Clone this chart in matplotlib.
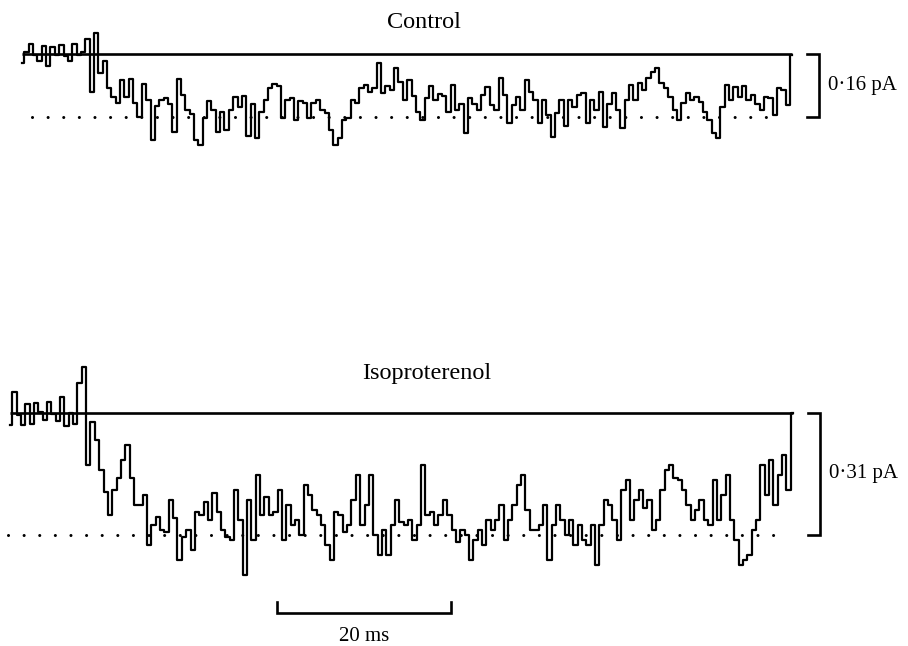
import matplotlib
matplotlib.use('Agg')
import matplotlib.pyplot as plt
import numpy as np

# single-channel current traces, sampled every 0.5 ms (pA, inward = negative)
DT = 0.5
CTRL_T0 = 1.4
ISO_T0 = 0.0

ctrl_pA = [
    -0.023, 0.005, 0.025, -0.003, -0.018, 0.020, -0.030, 0.018, -0.003, 0.023,
    -0.005, -0.018, 0.025, -0.003, 0.005, 0.038, -0.097, 0.053, -0.048, -0.018,
    -0.086, -0.109, -0.124, -0.066, -0.109, -0.064, -0.124, -0.160, -0.076, -0.117,
    -0.218, -0.132, -0.117, -0.112, -0.127, -0.198, -0.064, -0.104, -0.142, -0.152,
    -0.218, -0.231, -0.163, -0.119, -0.142, -0.198, -0.147, -0.193, -0.142, -0.109,
    -0.135, -0.107, -0.208, -0.127, -0.213, -0.147, -0.117, -0.086, -0.076, -0.081,
    -0.163, -0.117, -0.112, -0.168, -0.119, -0.124, -0.163, -0.124, -0.117, -0.142,
    -0.150, -0.193, -0.231, -0.213, -0.168, -0.163, -0.117, -0.124, -0.086, -0.079,
    -0.097, -0.086, -0.023, -0.099, -0.081, -0.091, -0.036, -0.071, -0.117, -0.066,
    -0.107, -0.147, -0.168, -0.112, -0.081, -0.117, -0.102, -0.107, -0.147, -0.079,
    -0.142, -0.127, -0.201, -0.112, -0.127, -0.142, -0.104, -0.084, -0.130, -0.142,
    -0.061, -0.104, -0.175, -0.130, -0.109, -0.142, -0.066, -0.097, -0.117, -0.175,
    -0.117, -0.155, -0.211, -0.150, -0.117, -0.183, -0.117, -0.135, -0.104, -0.099,
    -0.175, -0.117, -0.142, -0.097, -0.185, -0.127, -0.099, -0.142, -0.188, -0.117,
    -0.079, -0.117, -0.074, -0.091, -0.061, -0.046, -0.036, -0.074, -0.086, -0.109,
    -0.142, -0.168, -0.124, -0.099, -0.117, -0.109, -0.122, -0.147, -0.168, -0.201,
    -0.213, -0.135, -0.079, -0.117, -0.084, -0.109, -0.081, -0.117, -0.104, -0.127,
    -0.142, -0.109, -0.112, -0.155, -0.086, -0.091, -0.130, -0.003,
]

iso_pA = [
    -0.030, 0.053, -0.005, -0.030, 0.023, -0.028, 0.025, 0.003, -0.018, 0.028,
    -0.003, -0.020, 0.041, -0.033, 0.000, -0.028, 0.076, 0.117, -0.132, -0.023,
    -0.069, -0.145, -0.201, -0.259, -0.196, -0.165, -0.119, -0.081, -0.165, -0.234,
    -0.234, -0.208, -0.335, -0.284, -0.264, -0.297, -0.302, -0.221, -0.267, -0.373,
    -0.315, -0.297, -0.348, -0.251, -0.259, -0.226, -0.272, -0.203, -0.251, -0.297,
    -0.315, -0.323, -0.196, -0.272, -0.411, -0.221, -0.323, -0.157, -0.259, -0.213,
    -0.259, -0.251, -0.196, -0.323, -0.234, -0.284, -0.272, -0.310, -0.183, -0.208,
    -0.246, -0.259, -0.284, -0.335, -0.373, -0.251, -0.259, -0.302, -0.284, -0.221,
    -0.157, -0.284, -0.234, -0.157, -0.310, -0.361, -0.297, -0.361, -0.284, -0.221,
    -0.277, -0.284, -0.272, -0.323, -0.284, -0.132, -0.259, -0.251, -0.284, -0.259,
    -0.221, -0.259, -0.297, -0.328, -0.297, -0.310, -0.373, -0.323, -0.297, -0.335,
    -0.272, -0.297, -0.272, -0.234, -0.323, -0.272, -0.234, -0.183, -0.157, -0.246,
    -0.297, -0.297, -0.284, -0.234, -0.373, -0.284, -0.234, -0.272, -0.310, -0.272,
    -0.335, -0.284, -0.323, -0.335, -0.284, -0.386, -0.284, -0.221, -0.234, -0.272,
    -0.323, -0.196, -0.170, -0.272, -0.221, -0.196, -0.241, -0.221, -0.297, -0.272,
    -0.196, -0.145, -0.132, -0.165, -0.170, -0.196, -0.234, -0.272, -0.246, -0.221,
    -0.272, -0.284, -0.170, -0.272, -0.208, -0.157, -0.272, -0.323, -0.386, -0.373,
    -0.361, -0.297, -0.272, -0.132, -0.208, -0.119, -0.234, -0.157, -0.107, -0.196,
    0.000,
]

ctrl_open = -0.16   # pA, single channel amplitude
iso_open = -0.31
ISO_OFFSET = -0.911  # vertical offset of the lower trace on the page

ctrl_t = CTRL_T0 + DT*np.arange(len(ctrl_pA))
iso_t = ISO_T0 + DT*np.arange(len(iso_pA))
ctrl_y = np.array(ctrl_pA)
iso_y = np.array(iso_pA) + ISO_OFFSET

fig = plt.figure(figsize=(9.08, 6.46), dpi=100)
ax = fig.add_axes([0, 0, 1, 1])
ax.set_xlim(-1.149, 103.218)
ax.set_ylim(-1.503, 0.137)
ax.axis('off')

serif = 'Liberation Serif'

def trace(t, y, base, opn, t_dot0, t_dot1):
	#closed level as a solid line, open level dotted
	ax.plot([t[0], t[-1]], [base, base], color='black', lw=1.9, solid_capstyle='butt', zorder=2)
	ax.plot([t_dot0, t_dot1], [base+opn, base+opn], color='black', lw=2.2,
	        dashes=(0.01, 5.1), dash_capstyle='round', zorder=1)
	ax.plot(t, y, color='black', lw=1.6, drawstyle='steps-mid', zorder=3)

def amp_bar(t, base, opn, label):
	ax.plot([t-1.4, t, t, t-1.4], [base, base, base+opn, base+opn],
	        color='black', lw=1.9, solid_joinstyle='miter')
	ax.text(t+1.0, base+opn/2, label, family=serif, fontsize=15, ha='left', va='center')

trace(ctrl_t, ctrl_y, 0.0, ctrl_open, 2.5, 88.5)
trace(iso_t, iso_y, ISO_OFFSET, iso_open, -0.2, 88.3)
amp_bar(93.0, 0.0, ctrl_open, '0·16 pA')
amp_bar(93.1, ISO_OFFSET, iso_open, '0·31 pA')

ax.text(47.6, 0.081, 'Control', family=serif, fontsize=17.5, ha='center', va='center')
ax.text(47.9, -0.810, 'Isoproterenol', family=serif, fontsize=17.5, ha='center', va='center')

#time scale bar
ax.plot([30.7, 30.7, 50.7, 50.7], [-1.391, -1.419, -1.419, -1.391], color='black', lw=1.9,
        solid_joinstyle='miter')
ax.text(40.7, -1.480, '20 ms', family=serif, fontsize=15, ha='center', va='center')

plt.savefig('out.png', dpi=100)
